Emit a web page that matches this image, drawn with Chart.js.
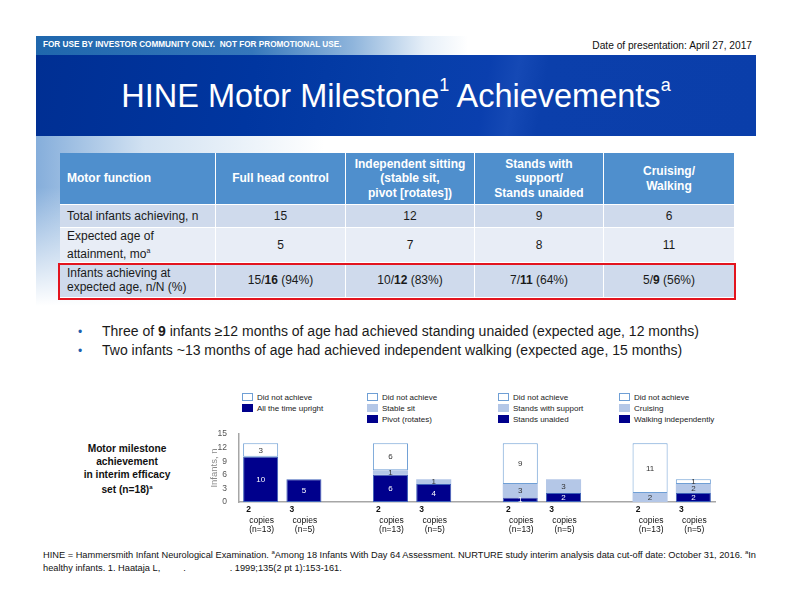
<!DOCTYPE html>
<html>
<head>
<meta charset="utf-8">
<script src="https://cdn.jsdelivr.net/npm/chart.js@4/dist/chart.umd.min.js"></script>
<style>
  html, body { margin:0; padding:0; background:#fff; }
  body { width:792px; height:612px; position:relative; overflow:hidden; font-family:"Liberation Sans", Arial, sans-serif; color:#1a1a1a; }
  .abs { position:absolute; }
  #topband { left:36px; top:36px; width:720px; height:19px;
    background:linear-gradient(to right, #1f67ad 0%, #3577bb 30%, #8fb5dc 44%, #e6eff8 54%, #ffffff 60%, #ffffff 100%); }
  #topband span { position:absolute; left:7px; top:4px; font-size:8.2px; font-weight:bold; color:#fff; }
  #date { right:40px; top:40px; font-size:10.2px; color:#111; }
  #titleband { left:36px; top:55px; width:720px; height:81px;
    background:linear-gradient(100deg, #002f93 0%, #0036a0 30%, #063ea8 50%, #0a3fae 62%, #1549b5 66%, #0b3fab 70%, #0a3eaa 100%); }
  #title { left:36px; top:78px; width:720px; text-align:center; font-size:32.5px; color:#fff; white-space:nowrap; }
  #title sup { font-size:18px; vertical-align:top; position:relative; top:-3px; }
  #glow { left:36px; top:136px; width:720px; height:170px;
    background:linear-gradient(to right, rgba(120,165,215,0.9) 0%, rgba(190,213,236,0.7) 15%, rgba(255,255,255,0) 40%); }
  #glow2 { left:36px; top:136px; width:720px; height:170px;
    background:linear-gradient(to bottom, rgba(255,255,255,0) 0%, rgba(255,255,255,0) 30%, rgba(255,255,255,1) 100%); }
  .cell { position:absolute; box-sizing:border-box; display:flex; align-items:center; justify-content:center; text-align:center; font-size:12px; line-height:14.5px; border-right:1.5px solid #fff; border-bottom:1.5px solid #fff; }
  .cell.first { justify-content:flex-start; text-align:left; padding-left:7px; }
  .hd { background:#4f8fcd; color:#fff; font-weight:bold; }
  .r1 { background:#cfdaec; }
  .r2 { background:#e8edf6; }
  .r3 { background:#cfdaec; }
  #redbox { left:58px; top:263px; width:674px; height:33px; border:2px solid #e3141e; }
  .bullet { left:78px; font-size:14px; color:#1a1a1a; white-space:nowrap; }
  .bullet .dot { color:#1f5fae; display:inline-block; width:24px; font-size:12px; }
  #sidelabel { left:62px; top:442px; width:130px; text-align:center; font-size:10.2px; font-weight:bold; line-height:13px; color:#111; }
  #sidelabel sup { font-size:6px; }
  .legend { position:absolute; font-size:8px; color:#222; }
  .legend div { position:relative; height:11px; line-height:11px; white-space:nowrap; }
  .legend i { position:absolute; left:0; top:1px; width:11px; height:8px; box-sizing:border-box; }
  .legend span { position:absolute; left:15px; top:0; }
  .sw-none { background:#fff; border:1px solid #6f9fd5; }
  .sw-part { background:#b4c7e7; }
  .sw-full { background:#00008c; }
  #foot { left:43px; top:546px; font-size:9.25px; color:#111; line-height:13px; white-space:nowrap; }
  #foot sup { font-size:6px; }
  #chartbox { left:200px; top:425px; }
</style>
</head>
<body>
<div class="abs" id="topband"><span>FOR USE BY INVESTOR COMMUNITY ONLY.&nbsp; NOT FOR PROMOTIONAL USE.</span></div>
<div class="abs" id="date">Date of presentation: April 27, 2017</div>
<div class="abs" id="titleband"></div>
<div class="abs" id="title">HINE Motor Milestone<sup>1</sup> Achievements<sup>a</sup></div>
<div class="abs" id="glow"></div>
<div class="abs" id="glow2"></div>

<div id="tbl"></div>
<div class="abs" id="redbox"></div>

<div class="abs bullet" style="top:323px"><span class="dot">•</span>Three of <b>9</b> infants ≥12 months of age had achieved standing unaided (expected age, 12 months)</div>
<div class="abs bullet" style="top:342px"><span class="dot">•</span>Two infants ~13 months of age had achieved independent walking (expected age, 15 months)</div>

<div class="abs" id="sidelabel">Motor milestone<br>achievement<br>in interim efficacy<br>set (n=18)<sup>a</sup></div>

<div class="legend" style="left:242px; top:392px">
  <div><i class="sw-none"></i><span>Did not achieve</span></div>
  <div><i class="sw-full"></i><span>All the time upright</span></div>
</div>
<div class="legend" style="left:367px; top:392px">
  <div><i class="sw-none"></i><span>Did not achieve</span></div>
  <div><i class="sw-part"></i><span>Stable sit</span></div>
  <div><i class="sw-full"></i><span>Pivot (rotates)</span></div>
</div>
<div class="legend" style="left:498px; top:392px">
  <div><i class="sw-none"></i><span>Did not achieve</span></div>
  <div><i class="sw-part"></i><span>Stands with support</span></div>
  <div><i class="sw-full"></i><span>Stands unaided</span></div>
</div>
<div class="legend" style="left:619px; top:392px">
  <div><i class="sw-none"></i><span>Did not achieve</span></div>
  <div><i class="sw-part"></i><span>Cruising</span></div>
  <div><i class="sw-full"></i><span>Walking independently</span></div>
</div>

<div class="abs" id="chartbox"><canvas id="c" width="520" height="115"></canvas></div>

<div class="abs" id="foot">HINE = Hammersmith Infant Neurological Examination. <sup>a</sup>Among 18 Infants With Day 64 Assessment. NURTURE study interim analysis data cut-off date: October 31, 2016. <sup>a</sup>In<br>healthy infants. 1. Haataja L, &nbsp; &nbsp; &nbsp; &nbsp; . &nbsp; &nbsp; &nbsp; &nbsp; &nbsp; &nbsp; &nbsp; &nbsp; . 1999;135(2 pt 1):153-161.</div>

<script>
// ---- Summary table ----
const tableHeader = ["Motor function", "Full head control", "Independent sitting<br>(stable sit,<br>pivot [rotates])", "Stands with<br>support/<br>Stands unaided", "Cruising/<br>Walking"];
const totalAchieving = ["15", "12", "9", "6"];
const expectedAge = ["5", "7", "8", "11"];
const achievingAtAge = ["15/<b>16</b> (94%)", "10/<b>12</b> (83%)", "7/<b>11</b> (64%)", "5/<b>9</b> (56%)"];

// ---- Bar chart ----
// Categories: per milestone group, 2 copies / 3 copies, then a spacer slot
const categories = ["head-2", "head-3", "", "sit-2", "sit-3", "", "stand-2", "stand-3", "", "walk-2", "walk-3"];
const copyNumbers = ["2", "3", "", "2", "3", "", "2", "3", "", "2", "3"];
const sampleSizes = ["(n=13)", "(n=5)", "", "(n=13)", "(n=5)", "", "(n=13)", "(n=5)", "", "(n=13)", "(n=5)"];
// Highest milestone achieved (dark), lower milestone achieved (light), did not achieve (white)
const achievedFull    = [10, 5, null, 6, 4, null, 1, 2, null, 0, 2];
const achievedPartial = [0, 0, null, 1, 1, null, 3, 3, null, 2, 2];
const notAchieved     = [3, 0, null, 6, 0, null, 9, 0, null, 11, 1];
const yTicks = [0, 3, 6, 9, 12, 15];

// build table
(function () {
  const colX = [60, 216, 346, 475, 604, 734];
  const rowY = [153, 205, 228, 263, 298];
  const rows = [
    { cls: 'hd', cells: tableHeader },
    { cls: 'r1', cells: ["Total infants achieving, n"].concat(totalAchieving) },
    { cls: 'r2', cells: ["Expected age of<br>attainment, mo<sup style='font-size:7px'>a</sup>"].concat(expectedAge) },
    { cls: 'r3', cells: ["Infants achieving at<br>expected age, n/N (%)"].concat(achievingAtAge) }
  ];
  const host = document.getElementById('tbl');
  rows.forEach((r, ri) => {
    r.cells.forEach((html, ci) => {
      const d = document.createElement('div');
      d.className = 'cell ' + r.cls + (ci === 0 ? ' first' : '');
      d.style.left = colX[ci] + 'px';
      d.style.top = rowY[ri] + 'px';
      d.style.width = (colX[ci + 1] - colX[ci]) + 'px';
      d.style.height = (rowY[ri + 1] - rowY[ri]) + 'px';
      if (ci === 4) d.style.borderRight = 'none';
      d.innerHTML = '<div>' + html + '</div>';
      host.appendChild(d);
    });
  });
})();

const FONT = '"Liberation Sans", Arial, sans-serif';

const valueLabels = {
  id: 'valueLabels',
  afterDatasetsDraw(chart) {
    const ctx = chart.ctx;
    ctx.save();
    ctx.font = '8px ' + FONT;
    ctx.textAlign = 'center';
    ctx.textBaseline = 'middle';
    chart.data.datasets.forEach((ds, di) => {
      const meta = chart.getDatasetMeta(di);
      meta.data.forEach((el, i) => {
        const v = ds.data[i];
        if (!v) return;
        ctx.fillStyle = di === 0 ? '#ffffff' : '#333333';
        ctx.fillText(String(v), el.x, (el.y + el.base) / 2 + 0.5);
      });
    });
    ctx.restore();
  }
};

const xLabels = {
  id: 'xLabels',
  afterDraw(chart) {
    const ctx = chart.ctx;
    const xs = chart.scales.x;
    const base = chart.chartArea.bottom;
    ctx.save();
    ctx.textAlign = 'center';
    ctx.textBaseline = 'middle';
    ctx.fillStyle = '#111';
    copyNumbers.forEach((c, i) => {
      if (!c) return;
      const x = xs.getPixelForValue(i);
      ctx.font = 'bold 8.5px ' + FONT;
      ctx.fillText(c, x - 12, base + 8);
      ctx.font = '8.5px ' + FONT;
      ctx.fillText('copies', x + 1, base + 18.5);
      ctx.fillText(sampleSizes[i], x + 1, base + 28);
    });
    ctx.restore();
  }
};

const bw = (ctx) => (ctx.raw ? 1 : 0);

new Chart(document.getElementById('c'), {
  type: 'bar',
  data: {
    labels: categories,
    datasets: [
      { label: 'Achieved (highest)', data: achievedFull, backgroundColor: '#00008c', borderColor: '#3f62b8', borderWidth: bw, borderSkipped: false },
      { label: 'Achieved (lower)', data: achievedPartial, backgroundColor: '#b4c7e7', borderColor: '#b4c7e7', borderWidth: 0 },
      { label: 'Did not achieve', data: notAchieved, backgroundColor: '#ffffff', borderColor: '#6f9fd5', borderWidth: bw, borderSkipped: false }
    ]
  },
  options: {
    responsive: false,
    animation: false,
    devicePixelRatio: 1,
    layout: { padding: { top: 7, right: 5, left: 0, bottom: 0 } },
    plugins: { legend: { display: false }, tooltip: { enabled: false } },
    datasets: { bar: { categoryPercentage: 1, barPercentage: 0.81 } },
    scales: {
      x: {
        stacked: true,
        grid: { display: false },
        ticks: { display: false },
        border: { display: true, color: '#a6a6a6', width: 1.5 },
        afterFit(s) { s.height = 38; }
      },
      y: {
        stacked: true,
        min: 0, max: 15,
        afterBuildTicks(s) { s.ticks = yTicks.map(v => ({ value: v })); },
        ticks: { font: { size: 8.5, family: FONT }, color: '#555', padding: 4 },
        grid: { display: false },
        border: { display: true, color: '#a6a6a6', width: 1.5 },
        title: { display: true, text: 'Infants, n', color: '#8a8a8a', font: { size: 9.5, family: FONT }, padding: { top: 9, bottom: 0 } },
        afterFit(s) { s.width = 39; }
      }
    }
  },
  plugins: [valueLabels, xLabels]
});
</script>
</body>
</html>
